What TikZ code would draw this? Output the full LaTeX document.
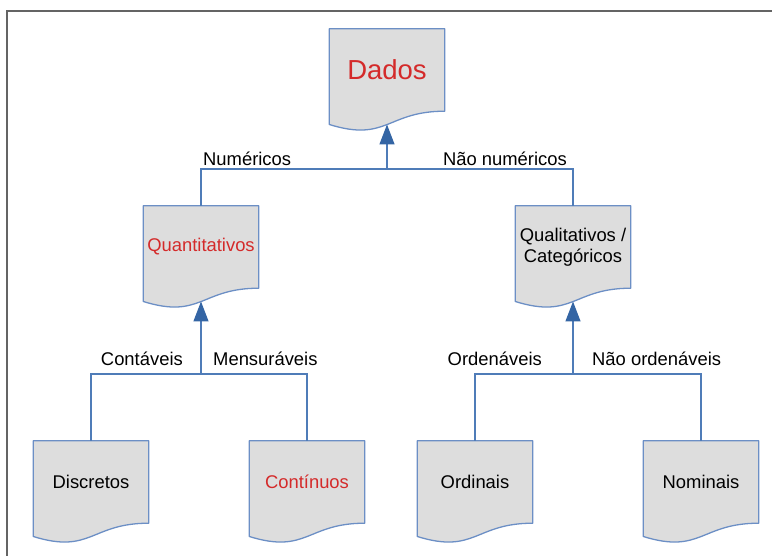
\documentclass[tikz,border=0pt]{standalone}
\usepackage{fontspec}
\setmainfont{Liberation Sans}
\usetikzlibrary{arrows.meta,backgrounds,calc}

\definecolor{docfill}{RGB}{221,221,221}
\definecolor{docedge}{RGB}{108,143,197}
\definecolor{connblue}{RGB}{79,124,184}
\definecolor{tipblue}{RGB}{52,101,164}
\definecolor{headred}{RGB}{212,42,42}
\definecolor{framegray}{RGB}{100,100,100}

\tikzset{
  docbox/.style={rectangle, minimum width=115pt, minimum height=82pt,
    inner sep=0pt, align=center,
    font=\fontsize{18.4pt}{21pt}\selectfont},
  redtext/.style={text=headred},
  edgelabel/.style={inner sep=0pt, font=\fontsize{18.4pt}{21pt}\selectfont},
  docline/.style={draw=docedge, fill=docfill, line width=1.3pt, line join=round},
  conn/.style={draw=connblue, line width=1.4pt},
  up/.style={conn, -{Triangle[length=20pt,width=15pt,color=tipblue]}},
  frameline/.style={draw=framegray, line width=1.4pt}
}

\begin{document}
\begin{tikzpicture}[x=1pt,y=-1pt]
  \useasboundingbox (0,0) rectangle (772,556);
  \draw[frameline] (7,556) -- (7,11) -- (772,11);

  % document nodes (text centred on the rectangular part)
  \node[docbox, redtext, font=\fontsize{27.5pt}{32pt}\selectfont] (dados) at (387,70) {Dados};
  \node[docbox, redtext] (quant) at (201,247) {Quantitativos};
  \node[docbox] (qual) at (573,247) {Qualitativos /\\Categóricos};
  \node[docbox] (disc) at (91,482) {Discretos};
  \node[docbox, redtext] (cont) at (307,482) {Contínuos};
  \node[docbox] (ord) at (475,482) {Ordinais};
  \node[docbox] (nom) at (701,482) {Nominais};

  % document outlines with wavy bottom edge
  \begin{scope}[on background layer]
    \foreach \n in {dados,quant,qual,disc,cont,ord,nom}{
      \path[docline] (\n.north west) -- (\n.north east) -- (\n.south east)
        .. controls (\n.south) and ($(\n.south)+(0pt,-31.2pt)$)
        .. ($(\n.south west)+(0pt,-13.3pt)$) -- cycle;
    }
  \end{scope}

  % junction points
  \coordinate (j1) at (387,169);
  \coordinate (j2) at (201,374);
  \coordinate (j3) at (573,374);

  % connectors
  \draw[conn] (quant.north) |- (j1) -| (qual.north);
  \draw[up] (j1) -- ([yshift=-13.3pt]dados.south);

  \draw[conn] (disc.north) |- (j2) -| (cont.north);
  \draw[up] (j2) -- ([yshift=-13.3pt]quant.south);

  \draw[conn] (ord.north) |- (j3) -| (nom.north);
  \draw[up] (j3) -- ([yshift=-13.3pt]qual.south);

  % branch labels
  \node[edgelabel, anchor=base west] (lnum) at (203,166) {Numéricos};
  \node[edgelabel, anchor=base east] (lnnum) at (567,166) {Não numéricos};
  \node[edgelabel, anchor=base east] (lcont) at (183,366) {Contáveis};
  \node[edgelabel, anchor=base west] (lmens) at (213,366) {Mensuráveis};
  \node[edgelabel, anchor=base east] (lord) at (542,366) {Ordenáveis};
  \node[edgelabel, anchor=base west] (lnord) at (592,366) {Não ordenáveis};
\end{tikzpicture}
\end{document}
